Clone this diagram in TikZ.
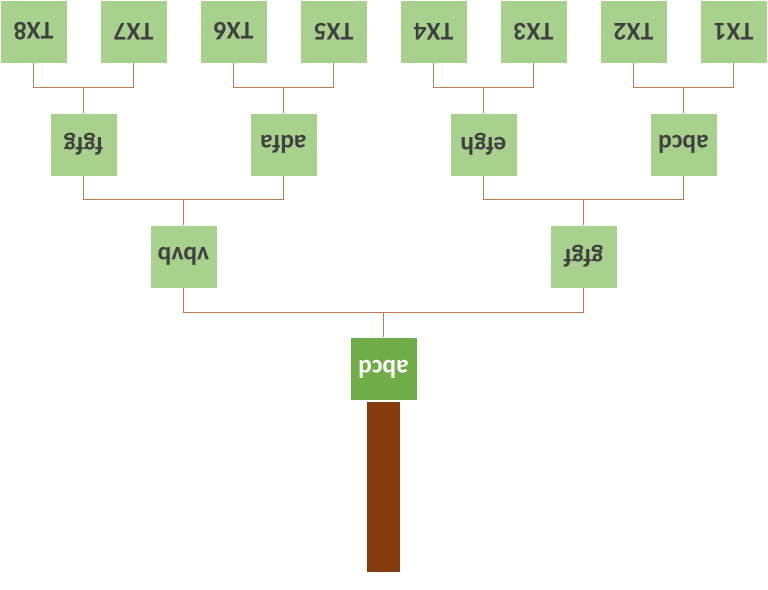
\documentclass[tikz,border=0pt]{standalone}
\usepackage{fontspec}
\setmainfont{Carlito}
\usetikzlibrary{positioning}
\definecolor{leafgreen}{HTML}{A9D18E}
\definecolor{rootgreen}{HTML}{70AD47}
\definecolor{barkbrown}{HTML}{843C0C}
\definecolor{twig}{HTML}{C07A4E}
\definecolor{labelgray}{HTML}{404040}
\newcommand{\flip}[1]{\rotatebox[origin=c]{180}{#1}}

\begin{document}
\begin{tikzpicture}[
        x=0.02cm, y=-0.02cm,
        box/.style={rectangle, draw=white, fill=leafgreen, thin, minimum width=1.34cm, minimum height=1.26cm, inner sep=0pt, align=center, font=\fontsize{14.5}{16}\selectfont\bfseries, text=labelgray},
        rootbox/.style={box, fill=rootgreen, text=white},
        trunk/.style={rectangle, fill=barkbrown, minimum width=0.68cm, minimum height=3.4cm, inner sep=0pt},
        link/.style={draw=twig, line width=0.65pt}
    ]
        \useasboundingbox (0,0) rectangle (768,589);

        % Nodes
        \node[box] (tx8) at (33.5,31.5) {\flip{TX8}};
        \node[box] (tx7) at (133.5,31.5) {\flip{TX7}};
        \node[box] (tx6) at (233.5,31.5) {\flip{TX6}};
        \node[box] (tx5) at (333.5,31.5) {\flip{TX5}};
        \node[box] (tx4) at (433.5,31.5) {\flip{TX4}};
        \node[box] (tx3) at (533.5,31.5) {\flip{TX3}};
        \node[box] (tx2) at (633.5,31.5) {\flip{TX2}};
        \node[box] (tx1) at (733.5,31.5) {\flip{TX1}};

        \node[box] (fgfg) at (83.5,144.5) {\flip{fgfg}};
        \node[box] (adfa) at (283.5,144.5) {\flip{adfa}};
        \node[box] (efgh) at (483.5,144.5) {\flip{efgh}};
        \node[box] (abcd) at (683.5,144.5) {\flip{abcd}};

        \node[box] (vbvb) at (183.5,256.5) {\flip{vbvb}};
        \node[box] (gfgf) at (583.5,256.5) {\flip{gfgf}};

        \node[rootbox] (root) at (383.5,369) {\flip{abcd}};
        \node[trunk, below=0.02cm of root] (trunk) {};

        % Links
        \draw[link] (tx8.south) |- ([yshift=0.5cm]fgfg.north) -| (tx7.south);
        \draw[link] (fgfg.north) -- ([yshift=0.5cm]fgfg.north);
        \draw[link] (tx6.south) |- ([yshift=0.5cm]adfa.north) -| (tx5.south);
        \draw[link] (adfa.north) -- ([yshift=0.5cm]adfa.north);
        \draw[link] (tx4.south) |- ([yshift=0.5cm]efgh.north) -| (tx3.south);
        \draw[link] (efgh.north) -- ([yshift=0.5cm]efgh.north);
        \draw[link] (tx2.south) |- ([yshift=0.5cm]abcd.north) -| (tx1.south);
        \draw[link] (abcd.north) -- ([yshift=0.5cm]abcd.north);

        \draw[link] (fgfg.south) |- ([yshift=0.5cm]vbvb.north) -| (adfa.south);
        \draw[link] (vbvb.north) -- ([yshift=0.5cm]vbvb.north);
        \draw[link] (efgh.south) |- ([yshift=0.5cm]gfgf.north) -| (abcd.south);
        \draw[link] (gfgf.north) -- ([yshift=0.5cm]gfgf.north);

        \draw[link] (vbvb.south) |- ([yshift=0.5cm]root.north) -| (gfgf.south);
        \draw[link] (root.north) -- ([yshift=0.5cm]root.north);
    \end{tikzpicture}
\end{document}
